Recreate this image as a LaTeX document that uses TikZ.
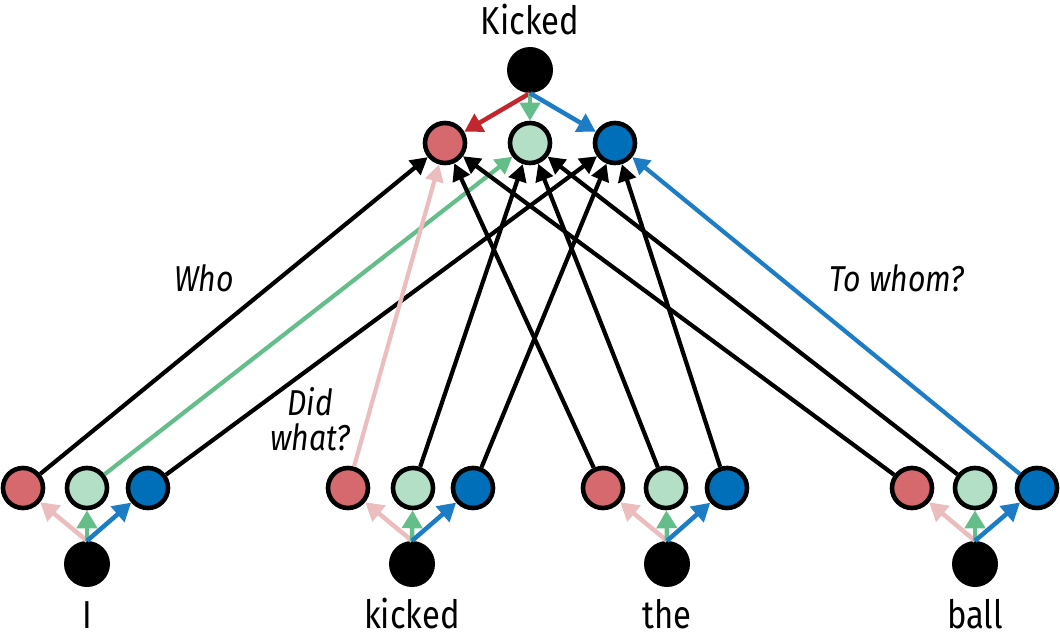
\documentclass[tikz,border=0pt]{standalone}
\usepackage{fontspec}
\setmainfont{Fira Sans}[FakeStretch=0.84]
\usetikzlibrary{arrows.meta}
\definecolor{redfill}{HTML}{D5696D}
\definecolor{greenfill}{HTML}{B2DFC6}
\definecolor{bluefill}{HTML}{006FB9}
\definecolor{darkredarrow}{HTML}{C1272D}
\definecolor{greenarrow}{HTML}{63BE8A}
\definecolor{bluearrow}{HTML}{1C7DC6}
\definecolor{pinkarrow}{HTML}{EBBDBE}
\begin{document}
\begin{tikzpicture}[x=1pt,y=-1pt,
  unit/.style={circle, draw=black, line width=4.6pt, minimum size=40pt, inner sep=0pt},
  ru/.style={unit, fill=redfill},
  gu/.style={unit, fill=greenfill},
  bu/.style={unit, fill=bluefill},
  blk/.style={circle, fill=black, draw=none, minimum size=46pt, inner sep=0pt},
  word/.style={anchor=base, inner sep=0pt, font=\fontsize{39}{44}\selectfont},
  lbl/.style={inner sep=0pt, font=\fontsize{36}{35}\selectfont\itshape, align=center},
  con/.style={line width=4.2pt, -{Triangle[length=17pt 0 0,width=18pt 0 0]}},
  ccon/.style={line width=4.5pt, -{Triangle[length=18pt 0 0,width=20pt 0 0]}}
]
\useasboundingbox (0,0) rectangle (1060,639);
% top
\node[word] (kw) at (530,35) {Kicked};
\node[blk] (K) at (530,70) {};
\node[ru] (TR) at (445,143) {};
\node[gu] (TG) at (530,143) {};
\node[bu] (TB) at (615,143) {};
\draw[ccon, darkredarrow] (K.south) -- (TR);
\draw[ccon, greenarrow] (K.south) -- (TG);
\draw[ccon, bluearrow] (K.south) -- (TB);
% bottom groups
\foreach \n/\xr/\xg/\xb/\xk/\w in {1/23/87/148/87/I, 2/348/413/473/412/kicked, 3/603/666/727/667/the, 4/912/975/1037/975/ball}{
  \node[ru] (r\n) at (\xr,488) {};
  \node[gu] (g\n) at (\xg,488) {};
  \node[bu] (b\n) at (\xb,488) {};
  \node[blk] (k\n) at (\xk,564) {};
  \node[word] (w\n) at (\xk,628) {\w};
  \draw[ccon, pinkarrow] (k\n.north) -- (r\n);
  \draw[ccon, greenarrow] (k\n.north) -- (g\n);
  \draw[ccon, bluearrow] (k\n.north) -- (b\n);
}
% connectors to top
\draw[con] (r1) -- (TR);
\draw[con, greenarrow] (g1) -- (TG);
\draw[con] (b1) -- (TB);
\draw[con, pinkarrow] (r2) -- (TR);
\draw[con] (g2) -- (TG);
\draw[con] (b2) -- (TB);
\draw[con] (r3) -- (TR);
\draw[con] (g3) -- (TG);
\draw[con] (b3) -- (TB);
\draw[con] (r4) -- (TR);
\draw[con] (g4) -- (TG);
\draw[con, bluearrow] (b4) -- (TB);
% labels
\node[lbl] (who) at (204,278) {Who};
\node[lbl] (did) at (310,419) {Did\\what?};
\node[lbl] (tow) at (897,278) {To whom?};
\end{tikzpicture}
\end{document}
